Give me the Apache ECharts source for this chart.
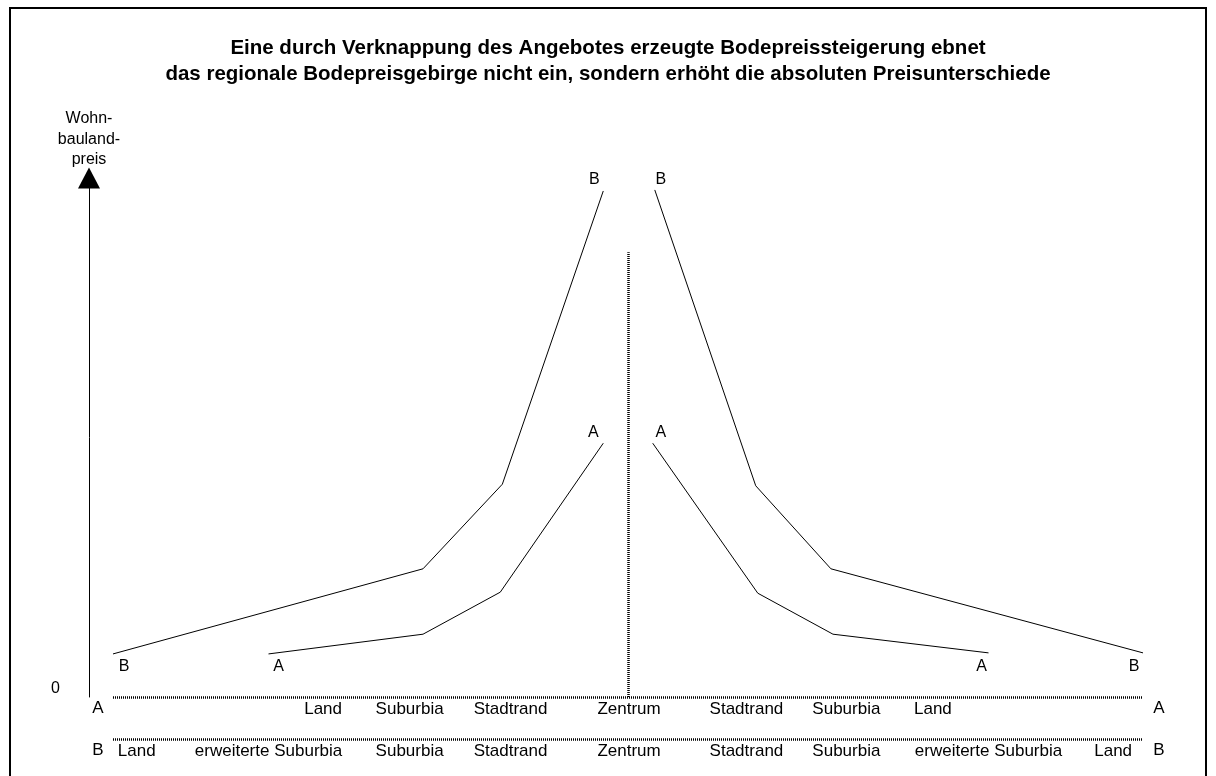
<!DOCTYPE html>
<html>
<head>
<meta charset="utf-8">
<script src="https://cdn.jsdelivr.net/npm/echarts@6/dist/echarts.min.js"></script>
<style>
    html, body { margin: 0; padding: 0; background: #fff; }
    #chart { width: 1216px; height: 776px; }
</style>
</head>
<body>
<div id="chart"></div>
<script>
const titleLines = [
    "Eine durch Verknappung des Angebotes erzeugte Bodepreissteigerung ebnet",
    "das regionale Bodepreisgebirge nicht ein, sondern erhöht die absoluten Preisunterschiede",
];
const yAxisName = "Wohn-\nbauland-\npreis";

// Preisprofile, x: Lage (0 = Rand links, 50 = Zentrum, 100 = Rand rechts)
const bLeft = [[0, 8.3], [30.1, 24.7], [37.8, 41.0], [47.6, 97.5]];
const aLeft = [[15.1, 8.3], [30.1, 12.1], [37.6, 20.2], [47.6, 48.9]];
const aRight = [[52.4, 48.9], [62.6, 20.0], [69.9, 12.1], [85.0, 8.5]];
const bRight = [[52.6, 97.7], [62.4, 40.7], [69.7, 24.7], [100, 8.5]];
const zentrumX = 50;
const zentrumTop = 85.7;

// Zonen unter der Achse
const zonesA = ["Land", "Suburbia", "Stadtrand", "Zentrum", "Stadtrand", "Suburbia", "Land"];
const zonesAPos = [20.4, 28.8, 38.6, 50.1, 61.5, 71.2, 79.6];
const zonesB = ["Land", "erweiterte Suburbia", "Suburbia", "Stadtrand", "Zentrum", "Stadtrand", "Suburbia", "erweiterte Suburbia", "Land"];
const zonesBPos = [2.3, 15.1, 28.8, 38.6, 50.1, 61.5, 71.2, 85.0, 97.1];

const font = "'Liberation Sans', Arial, sans-serif";
const dotted = { color: "#000", width: 2.5, type: [1, 1] };

const chart = echarts.init(document.getElementById("chart"));

// erster und letzter Punkt bekommen den Kurvennamen
function withEndLabels(points, name, startOffset, endOffset) {
    return points.map((p, i) => {
        if (i === 0 || i === points.length - 1) {
            return {
                value: p,
                label: {
                    show: true,
                    formatter: name,
                    position: "inside",
                    offset: i === 0 ? startOffset : endOffset,
                    color: "#000",
                    fontSize: 16,
                    fontFamily: font,
                },
            };
        }
        return p;
    });
}

function lineSeries(name, data) {
    return {
        name: name,
        type: "line",
        data: data,
        symbol: "circle",
        symbolSize: 0.1,
        showSymbol: true,
        lineStyle: { color: "#000", width: 1 },
        itemStyle: { color: "#000" },
        emphasis: { disabled: true },
        animation: false,
    };
}

function zoneFormatter(values, names) {
    return (v) => {
        const idx = values.findIndex((x) => Math.abs(x - v) < 1e-6);
        return idx >= 0 ? names[idx] : "";
    };
}

const bLeftSeries = lineSeries("B", withEndLabels(bLeft, "B", [11, 13], [-9, -11]));
bLeftSeries.markLine = {
    silent: true,
    symbol: "none",
    label: { show: false },
    lineStyle: dotted,
    data: [[{ coord: [zentrumX, 0] }, { coord: [zentrumX, zentrumTop] }]],
};

const zoneLabel = (values, names) => ({
    show: true,
    customValues: values,
    formatter: zoneFormatter(values, names),
    margin: 4,
    fontSize: 17,
    fontFamily: font,
    color: "#000",
});

const rowMark = (text, x, y) => ({
    type: "text",
    x: x,
    y: y,
    style: { text: text, font: "17px " + font, fill: "#000", align: "center", verticalAlign: "middle" },
});

const option = {
    backgroundColor: "#fff",
    animation: false,
    title: {
        text: titleLines.join("\n"),
        left: "center",
        top: 30,
        textStyle: {
            fontSize: 20.5,
            fontWeight: "bold",
            fontFamily: font,
            color: "#000",
            lineHeight: 26,
        },
    },
    grid: { left: 113, right: 73, top: 178, bottom: 79 },
    xAxis: [
        {
            type: "value",
            min: 0,
            max: 100,
            position: "bottom",
            axisLine: { show: false },
            axisTick: { show: false },
            splitLine: { show: false },
            axisLabel: zoneLabel(zonesAPos, zonesA),
        },
        {
            type: "value",
            min: 0,
            max: 100,
            position: "bottom",
            offset: 42,
            axisLine: { show: false },
            axisTick: { show: false },
            splitLine: { show: false },
            axisLabel: zoneLabel(zonesBPos, zonesB),
        },
    ],
    yAxis: {
        type: "value",
        min: 0,
        max: 100,
        interval: 100,
        offset: 24,
        name: yAxisName,
        nameLocation: "end",
        nameGap: 8,
        nameTextStyle: {
            fontSize: 16,
            lineHeight: 20.5,
            fontFamily: font,
            color: "#000",
            align: "center",
        },
        axisLine: {
            show: true,
            onZero: false,
            symbol: ["none", "triangle"],
            symbolSize: [22, 21],
            lineStyle: { color: "#000", width: 1 },
        },
        axisTick: { show: false },
        splitLine: { show: false },
        axisLabel: {
            margin: 29,
            formatter: (v) => (v === 0 ? "0" : ""),
            verticalAlign: "bottom",
            fontSize: 16,
            fontFamily: font,
            color: "#000",
        },
    },
    graphic: [
        {
            type: "rect",
            shape: { x: 10, y: 8, width: 1196, height: 790 },
            style: { fill: "none", stroke: "#000", lineWidth: 2 },
            silent: true,
        },
        rowMark("A", 98, 708),
        rowMark("A", 1159, 708),
        rowMark("B", 98, 750),
        rowMark("B", 1159, 750),
    ],
    series: [
        bLeftSeries,
        lineSeries("A", withEndLabels(aLeft, "A", [10, 13], [-10, -11])),
        lineSeries("A", withEndLabels(aRight, "A", [8, -11], [-7, 14])),
        lineSeries("B", withEndLabels(bRight, "B", [6, -10], [-9, 14])),
        {
            // gepunktete Grundlinien A und B
            type: "line",
            data: [],
            markLine: {
                silent: true,
                symbol: "none",
                label: { show: false },
                lineStyle: dotted,
                data: [
                    [{ coord: [0, 0] }, { coord: [100, 0] }],
                    [{ coord: [0, 0], y: 739 }, { coord: [100, 0], y: 739 }],
                ],
            },
        },
    ],
};

chart.setOption(option);
</script>
</body>
</html>
